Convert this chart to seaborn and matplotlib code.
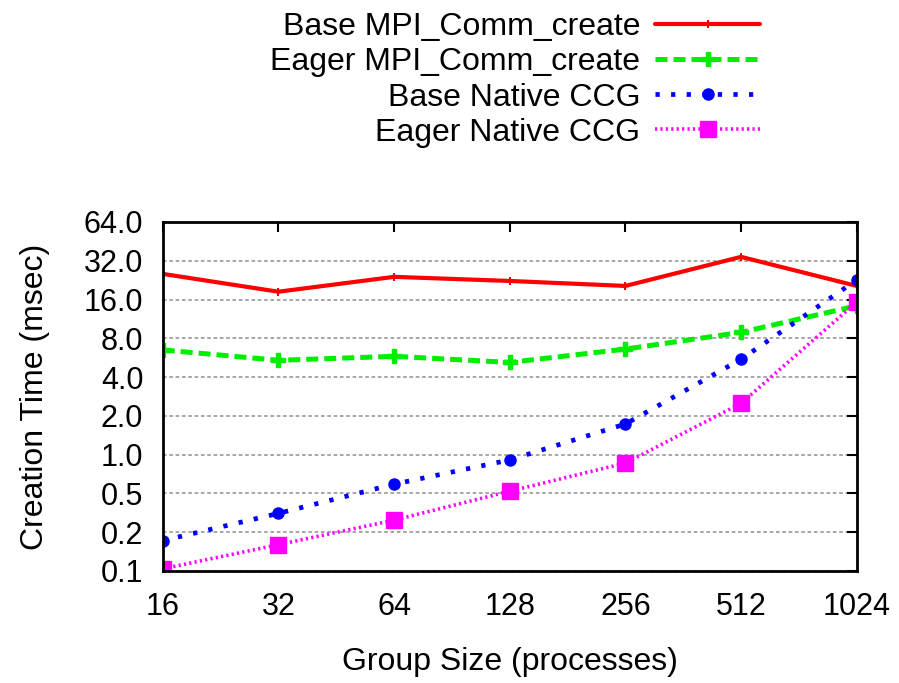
import matplotlib
matplotlib.use("Agg")
import matplotlib.pyplot as plt
import seaborn as sns
import pandas as pd
from matplotlib.ticker import FixedLocator, FixedFormatter, NullLocator

group_sizes = [16, 32, 64, 128, 256, 512, 1024]
base_mpi = [25.3, 18.4, 24.0, 22.3, 20.4, 34.3, 20.4]
eager_mpi = [6.5, 5.4, 5.8, 5.2, 6.6, 8.9, 14.3]
base_ccg = [0.215, 0.35, 0.59, 0.91, 1.73, 5.5, 22.7]
eager_ccg = [0.13, 0.20, 0.31, 0.52, 0.86, 2.5, 15.3]
series_names = ["Base MPI_Comm_create", "Eager MPI_Comm_create", "Base Native CCG", "Eager Native CCG"]
y_ticks = [0.125, 0.25, 0.5, 1, 2, 4, 8, 16, 32, 64]
y_tick_labels = ["0.1", "0.2", "0.5", "1.0", "2.0", "4.0", "8.0", "16.0", "32.0", "64.0"]

sns.set_style("white")
plt.rcParams["font.family"] = ["Liberation Sans", "DejaVu Sans"]
for k in ["text.color", "axes.labelcolor", "xtick.color", "ytick.color"]:
    plt.rcParams[k] = "black"

fig = plt.figure(figsize=(8.99, 6.83), dpi=100)
ax = fig.add_axes([0.181, 0.164, 0.772, 0.511])

styles = [
    dict(color="#ff0000", linestyle="-", marker="+", markersize=6, linewidth=3.0, mew=1.5),
    dict(color="#00ee00", linestyle=(0, (2.4, 1.2)), marker="P", markersize=10, linewidth=3.6, mew=1),
    dict(color="#0000ff", linestyle=(0, (0.9, 2.4)), marker="o", markersize=8, linewidth=3.4, mew=1),
    dict(color="#ff00ff", linestyle=(0, (0.6, 0.9)), marker="s", markersize=11, linewidth=2.6, mew=1),
]
for name, vals, st in zip(series_names, [base_mpi, eager_mpi, base_ccg, eager_ccg], styles):
    df = pd.DataFrame({"size": group_sizes, "time": vals})
    sns.lineplot(data=df, x="size", y="time", ax=ax, label=name,
                 mec=st["color"], mfc=st["color"], **st)

ax.set_xscale("log", base=2)
ax.set_yscale("log", base=2)
ax.set_xlim(16, 1024)
ax.set_ylim(0.125, 64)
ax.xaxis.set_major_locator(FixedLocator(group_sizes))
ax.xaxis.set_major_formatter(FixedFormatter([str(g) for g in group_sizes]))
ax.xaxis.set_minor_locator(NullLocator())
ax.yaxis.set_major_locator(FixedLocator(y_ticks))
ax.yaxis.set_major_formatter(FixedFormatter(y_tick_labels))
ax.yaxis.set_minor_locator(NullLocator())
ax.tick_params(axis="both", which="major", direction="in", length=7, width=1.5,
               top=True, right=True, labelsize=22, colors="black")
ax.tick_params(axis="x", pad=15)
ax.tick_params(axis="y", pad=14)
ax.grid(axis="y", color="#a0a0a0", linestyle=(0, (2, 1.5)), linewidth=1.3)
ax.grid(axis="x", visible=False)
for sp in ax.spines.values():
    sp.set_color("black")
    sp.set_linewidth(2)
ax.set_xlabel("Group Size (processes)", fontsize=23, labelpad=18)
ax.set_ylabel("Creation Time (msec)", fontsize=23, labelpad=24)

handles, labels = ax.get_legend_handles_labels()
ax.legend_.remove()
fig.legend(handles, labels, loc="upper right", bbox_to_anchor=(0.867, 1.01),
           frameon=False, fontsize=23, markerfirst=False, handlelength=3.3,
           labelspacing=0.16, handletextpad=0.45, borderaxespad=0.2)

fig.savefig("out.png", dpi=100)
